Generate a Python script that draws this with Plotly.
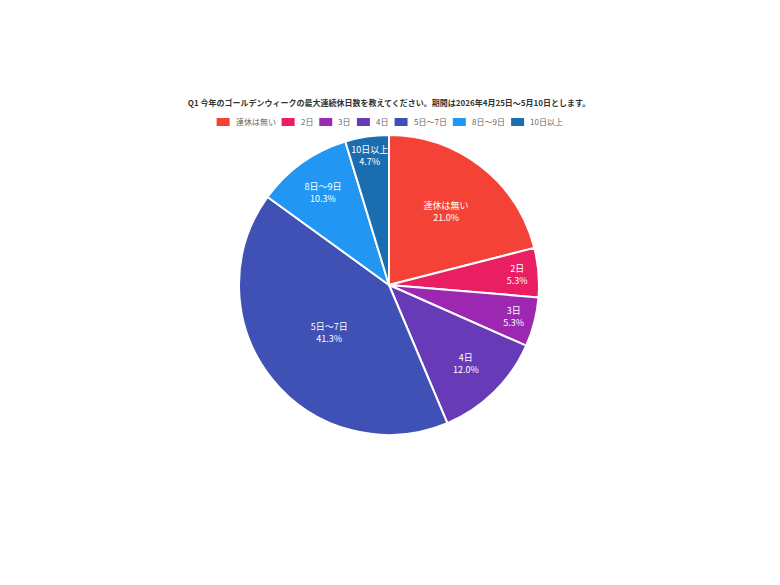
import plotly.graph_objects as go

# survey answers (Q1)
labels = ["連休は無い", "2日", "3日", "4日", "5日～7日", "8日～9日", "10日以上"]
values = [21.0, 5.3, 5.3, 12.0, 41.3, 10.3, 4.7]
colors = ["#F44336", "#E91E63", "#9C27B0", "#673AB7", "#3F51B5", "#2196F3", "#1A6DAF"]

title = "Q1 今年のゴールデンウィークの最大連続休日数を教えてください。期間は2026年4月25日～5月10日とします。"

W, H = 780, 585
ML, MR, MT, MB = 0, 18, 127, 158
PW, PH = W - ML - MR, H - MT - MB
OFF = 8  # page body margin


def px_x(x):
    return (x - OFF - ML) / PW


def px_y(y):
    return 1 - (y - OFF - MT) / PH


fig = go.Figure(go.Pie(
    labels=labels,
    values=values,
    sort=False,
    direction="clockwise",
    rotation=0,
    marker=dict(colors=colors, line=dict(color="white", width=2)),
    texttemplate="%{label}<br>%{percent:.1%}",
    textposition="inside",
    insidetextorientation="horizontal",
    textfont=dict(color="white", size=9),
    hoverinfo="label+percent",
    showlegend=False,
))

# legend drawn by hand so swatches and spacing look like the original
leg_font = 8


def text_w(s):
    return sum(leg_font if ord(c) > 0x2000 else leg_font * 0.58 for c in s)


sw, gap1, gap2 = 13, 4, 8
total = sum(sw + gap1 + text_w(s) for s in labels) + gap2 * (len(labels) - 1)
x = 389 - total / 2
ly = 122
for lab, col in zip(labels, colors):
    fig.add_shape(type="rect", xref="paper", yref="paper",
                  x0=px_x(x), x1=px_x(x + sw), y0=px_y(ly + 4), y1=px_y(ly - 4),
                  fillcolor=col, line=dict(width=0))
    fig.add_annotation(text=lab, xref="paper", yref="paper",
                       x=px_x(x + sw + gap1), y=px_y(ly), xanchor="left", yanchor="middle",
                       showarrow=False, font=dict(size=leg_font, color="#666"))
    x += sw + gap1 + text_w(lab) + gap2

fig.update_layout(
    width=W, height=H,
    font=dict(family="Noto Sans CJK JP, sans-serif", color="#444"),
    title=dict(text="<b>" + title + "</b>", x=(389 - OFF) / W, xanchor="center",
               y=1 - (103 - OFF) / H, yanchor="middle",
               font=dict(size=8, color="#333")),
    uniformtext=dict(minsize=9, mode="show"),
    margin=dict(l=ML, r=MR, t=MT, b=MB),
    paper_bgcolor="white",
    plot_bgcolor="white",
)

fig.write_html("out.html")
